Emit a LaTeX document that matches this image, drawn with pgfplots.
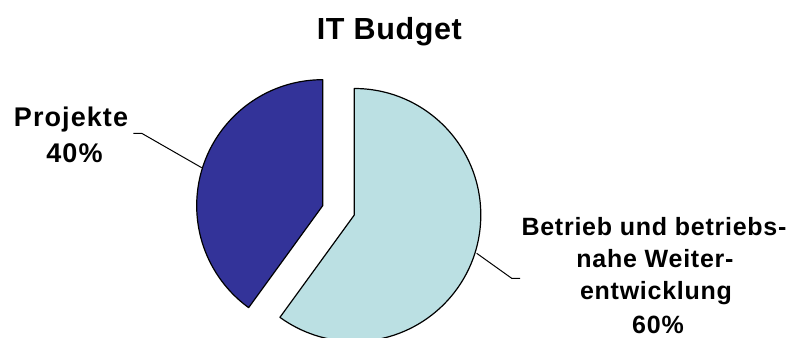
\documentclass[border=0pt]{standalone}
\usepackage{fontspec}
\setmainfont{Liberation Sans}
\newfontfamily\titlefont[LetterSpace=2]{Liberation Sans}
\newfontfamily\rightfont[LetterSpace=3]{Liberation Sans}
\newfontfamily\leftfont[LetterSpace=4]{Liberation Sans}
\usepackage{pgfplots}
\usepackage{pgfplotstable}
\pgfplotsset{compat=1.18}

\definecolor{projekte}{HTML}{333399}
\definecolor{betrieb}{HTML}{BBE0E3}

\tikzset{
  lbl/.style={anchor=base, font=\leftfont\bfseries\fontsize{27bp}{32bp}\selectfont},
  rbl/.style={anchor=base, font=\rightfont\bfseries\fontsize{25bp}{30bp}\selectfont}
}

% shares of the IT budget in percent
\pgfplotstableread{
share
40
60
}\budget

\begin{document}
\begin{tikzpicture}
\useasboundingbox (0,0) rectangle (792bp,338bp);
\pgfplotstablegetelem{0}{share}\of\budget \let\shareA\pgfplotsretval
\pgfplotstablegetelem{1}{share}\of\budget \let\shareB\pgfplotsretval
\pgfmathsetmacro{\angA}{3.6*\shareA}
\pgfmathsetmacro{\angB}{3.6*\shareB}
\begin{axis}[x=1bp, y=1bp, xmin=0, xmax=792, ymin=0, ymax=338,
  hide axis, clip=false, scale only axis]
  % Projekte wedge, counter-clockwise from 12 o'clock
  \filldraw[fill=projekte, draw=black, line width=1.2bp, line join=round]
    (axis cs:322.7,132.3) -- ++(0,126bp)
    arc[start angle=90, delta angle=\angA, radius=126bp] -- cycle;
  % Betrieb wedge, exploded, clockwise from 12 o'clock
  \filldraw[fill=betrieb, draw=black, line width=1.2bp, line join=round]
    (axis cs:354.3,123) -- ++(0,126.5bp)
    arc[start angle=90, delta angle=-\angB, radius=126.5bp] -- cycle;
  % leader lines
  \draw[line width=1bp] (axis cs:133.3,204.7) -- (axis cs:141.7,204.7) -- (axis cs:201.7,170.3);
  \draw[line width=1bp] (axis cs:476.7,84.7) -- (axis cs:511.7,59.7) -- (axis cs:520,59.7);
  % title and labels
  \node[anchor=base, font=\titlefont\bfseries\fontsize{30.5bp}{36bp}\selectfont]
    at (axis cs:389.3,298.7) {IT Budget};
  \node[lbl] at (axis cs:71,212) {Projekte};
  \node[lbl] at (axis cs:74.5,175.7) {\shareA\%};
  \node[rbl] at (axis cs:654,103) {Betrieb und betriebs-};
  \node[rbl] at (axis cs:655,70.5) {nahe Weiter-};
  \node[rbl] at (axis cs:656,38.5) {entwicklung};
  \node[rbl] at (axis cs:658,4.5) {\shareB\%};
\end{axis}
\end{tikzpicture}
\end{document}
